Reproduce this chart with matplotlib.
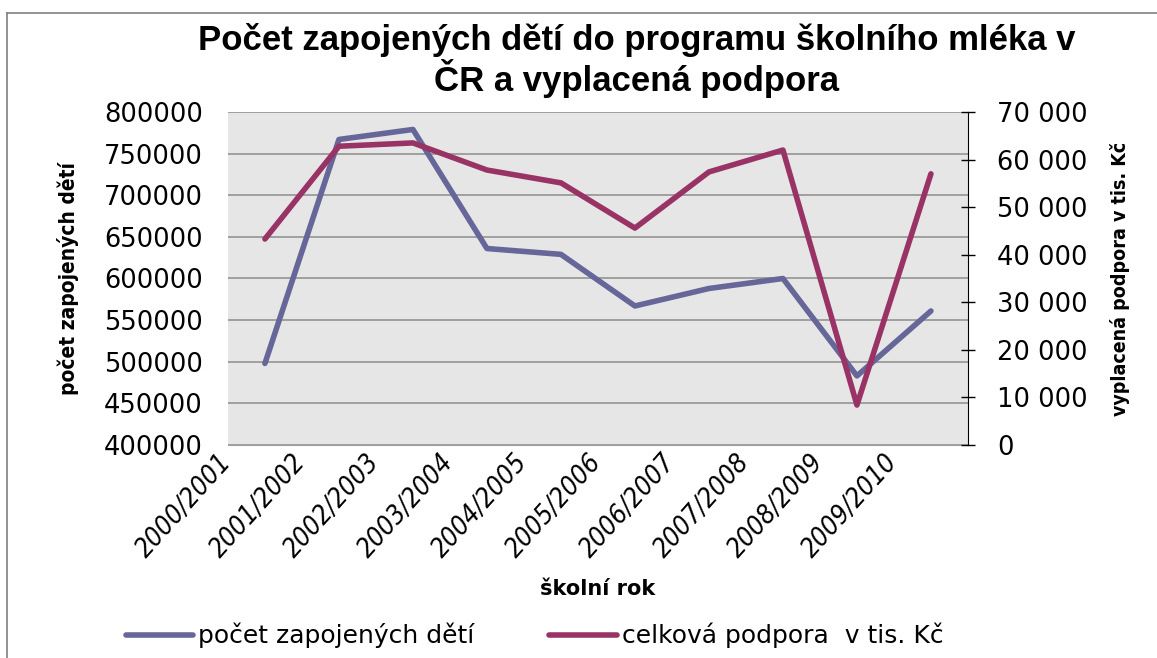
import matplotlib
matplotlib.use('Agg')
import matplotlib.pyplot as plt
from matplotlib.lines import Line2D
from matplotlib.ticker import FuncFormatter
from matplotlib.transforms import ScaledTranslation

roky = ['2000/2001', '2001/2002', '2002/2003', '2003/2004', '2004/2005',
        '2005/2006', '2006/2007', '2007/2008', '2008/2009', '2009/2010']
deti = [498000, 767000, 779000, 636000, 629000, 567000, 588000, 600000, 483000, 561000]
podpora = [43300, 62800, 63500, 57800, 55100, 45600, 57400, 62000, 8400, 57000]

modra = '#666699'
fialova = '#993366'

fig = plt.figure(figsize=(11.57, 6.58), dpi=100)
ax = fig.add_axes([0.197, 0.3237, 0.6396, 0.5061])
ax2 = ax.twinx()

x = list(range(len(roky)))
ax.plot(x, deti, color=modra, linewidth=4, solid_capstyle='round',
        solid_joinstyle='round', label='počet zapojených dětí')
ax2.plot(x, podpora, color=fialova, linewidth=4, solid_capstyle='round',
         solid_joinstyle='round', label='celková podpora  v tis. Kč')

ax.set_facecolor('#e6e6e6')
ax.set_xlim(-0.5, len(roky) - 0.5)
ax.set_ylim(400000, 800000)
ax.set_yticks(range(400000, 800001, 50000))
ax.grid(axis='y', color='#a0a0a0', linewidth=1.4)
ax.set_axisbelow(True)
ax.tick_params(axis='y', length=0, labelsize=18.5, pad=18)
ax.set_xticks([i - 0.5 for i in x])
ax.set_xticklabels(roky, rotation=48, ha='right', rotation_mode='anchor',
                   fontsize=19, fontstyle='italic', fontstretch='condensed', family='DejaVu Sans')
ax.tick_params(axis='x', length=0, pad=3)
posun = ScaledTranslation(-0.1, 0, fig.dpi_scale_trans)
for t in ax.get_xticklabels():
    t.set_transform(t.get_transform() + posun)

ax2.set_ylim(0, 70000)
ax2.set_yticks(range(0, 70001, 10000))
ax2.yaxis.set_major_formatter(FuncFormatter(lambda v, p: f'{int(v):,}'.replace(',', ' ')))
ax2.tick_params(axis='y', direction='inout', length=10, width=1, labelsize=18.5, pad=16)

for s in ['top', 'left']:
    ax.spines[s].set_visible(False)
    ax2.spines[s].set_visible(False)
ax.spines['right'].set_visible(False)
ax.spines['bottom'].set_color('#a0a0a0')
ax2.spines['bottom'].set_visible(False)
ax2.spines['right'].set_color('black')

ax.set_ylabel('počet zapojených dětí', fontsize=15, fontweight='bold', fontstretch='condensed',
              family='DejaVu Sans', labelpad=18)
ax2.set_ylabel('vyplacená podpora v tis. Kč', fontsize=14, fontweight='bold', fontstretch='condensed',
               family='DejaVu Sans', labelpad=16)
ax.set_xlabel('školní rok', fontsize=15, fontweight='bold', labelpad=12)

fig.text(0.55, 0.908, 'Počet zapojených dětí do programu školního mléka v\nČR a vyplacená podpora',
         ha='center', va='center', fontsize=25, fontweight='bold', family='Liberation Sans',
         linespacing=1.05)

h = [ax.get_lines()[0], ax2.get_lines()[0]]
fig.legend(h, [l.get_label() for l in h], loc='center', bbox_to_anchor=(0.462, 0.034), ncol=2,
           frameon=False, fontsize=18, handlelength=2.7, handletextpad=0.2, columnspacing=3.0)

# ramecek grafu
fig.add_artist(Line2D([0.006, 0.006], [0, 0.98], color='#808080', linewidth=1.2))
fig.add_artist(Line2D([0.006, 1], [0.98, 0.98], color='#808080', linewidth=1.2))

fig.savefig('out.png', dpi=100)
